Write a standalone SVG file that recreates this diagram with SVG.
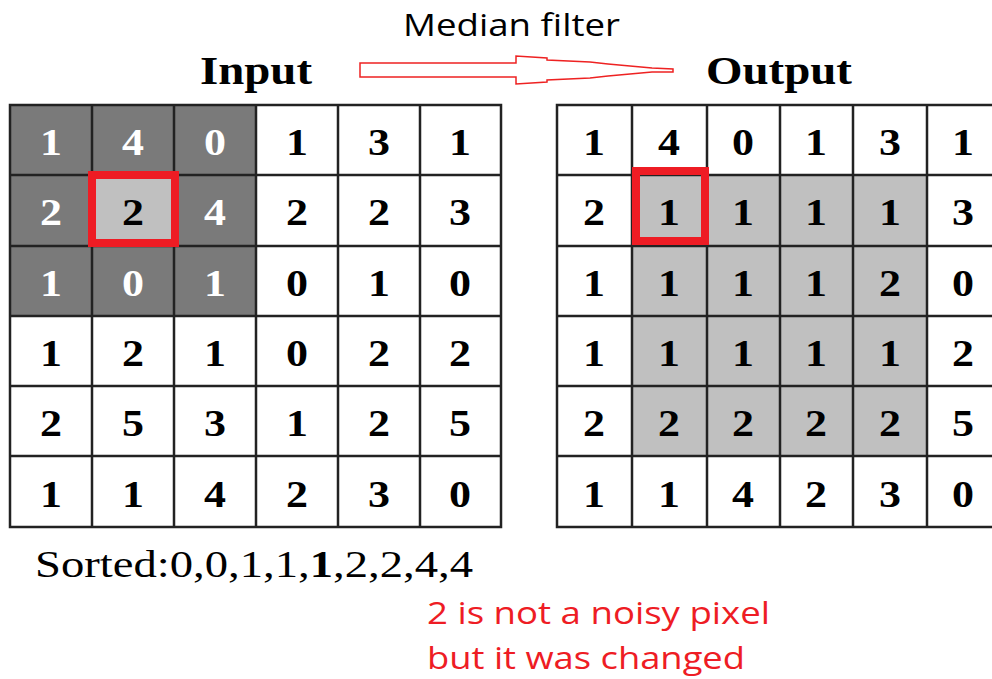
<svg xmlns="http://www.w3.org/2000/svg" width="992" height="679" viewBox="0 0 992 679">
<style>
.n{font-family:"Liberation Serif","Times New Roman",serif;font-weight:bold;font-size:37px;text-anchor:middle}
.w{fill:#ffffff}
.b{fill:#000000}
.g{stroke:#222;stroke-width:2.5;fill:none}
.ttl{font-family:"Liberation Serif",serif;font-weight:bold;font-size:40px}
.cal{font-family:"Open Sans","Liberation Sans",sans-serif}
</style>
<rect width="992" height="679" fill="#fff"/>
<g id="title">
<text class="cal" x="403" y="36" font-size="31" fill="#000" textLength="217" lengthAdjust="spacingAndGlyphs">Median filter</text>
</g>
<g id="input-label"><text class="ttl" x="200" y="84" textLength="112" lengthAdjust="spacingAndGlyphs">Input</text></g>
<g id="output-label"><text class="ttl" x="706" y="84" textLength="146" lengthAdjust="spacingAndGlyphs">Output</text></g>
<g id="connectors">
<polygon points="360,63 516,63 516,56 547,58 547,60 590,62 608,64 630,66 652,68 673,69 673,72 652,72 630,74 608,76 590,78 547,80 547,82 516,84 516,77 360,77" fill="#fff" stroke="#ee2222" stroke-width="1.5"/>
</g>
<g id="input-grid">
<rect x="10" y="105" width="246" height="211" fill="#7a7a7a"/>
<rect x="92" y="175" width="82" height="71" fill="#c0c0c0"/>
<path class="g" d="M10 105H501V527H10Z M92 105V527 M174 105V527 M256 105V527 M338 105V527 M420 105V527 M10 175H501 M10 246H501 M10 316H501 M10 386H501 M10 456H501"/>
<rect x="92" y="175" width="83" height="68" fill="none" stroke="#ee1c24" stroke-width="8"/>
<g class="n">
<text class="w" x="51" y="155" textLength="22" lengthAdjust="spacingAndGlyphs">1</text><text class="w" x="133" y="155" textLength="22" lengthAdjust="spacingAndGlyphs">4</text><text class="w" x="215" y="155" textLength="22" lengthAdjust="spacingAndGlyphs">0</text><text class="b" x="297" y="155" textLength="22" lengthAdjust="spacingAndGlyphs">1</text><text class="b" x="379" y="155" textLength="22" lengthAdjust="spacingAndGlyphs">3</text><text class="b" x="460" y="155" textLength="22" lengthAdjust="spacingAndGlyphs">1</text>
<text class="w" x="51" y="225" textLength="22" lengthAdjust="spacingAndGlyphs">2</text><text class="b" x="133" y="225" textLength="22" lengthAdjust="spacingAndGlyphs">2</text><text class="w" x="215" y="225" textLength="22" lengthAdjust="spacingAndGlyphs">4</text><text class="b" x="297" y="225" textLength="22" lengthAdjust="spacingAndGlyphs">2</text><text class="b" x="379" y="225" textLength="22" lengthAdjust="spacingAndGlyphs">2</text><text class="b" x="460" y="225" textLength="22" lengthAdjust="spacingAndGlyphs">3</text>
<text class="w" x="51" y="296" textLength="22" lengthAdjust="spacingAndGlyphs">1</text><text class="w" x="133" y="296" textLength="22" lengthAdjust="spacingAndGlyphs">0</text><text class="w" x="215" y="296" textLength="22" lengthAdjust="spacingAndGlyphs">1</text><text class="b" x="297" y="296" textLength="22" lengthAdjust="spacingAndGlyphs">0</text><text class="b" x="379" y="296" textLength="22" lengthAdjust="spacingAndGlyphs">1</text><text class="b" x="460" y="296" textLength="22" lengthAdjust="spacingAndGlyphs">0</text>
<text class="b" x="51" y="366" textLength="22" lengthAdjust="spacingAndGlyphs">1</text><text class="b" x="133" y="366" textLength="22" lengthAdjust="spacingAndGlyphs">2</text><text class="b" x="215" y="366" textLength="22" lengthAdjust="spacingAndGlyphs">1</text><text class="b" x="297" y="366" textLength="22" lengthAdjust="spacingAndGlyphs">0</text><text class="b" x="379" y="366" textLength="22" lengthAdjust="spacingAndGlyphs">2</text><text class="b" x="460" y="366" textLength="22" lengthAdjust="spacingAndGlyphs">2</text>
<text class="b" x="51" y="436" textLength="22" lengthAdjust="spacingAndGlyphs">2</text><text class="b" x="133" y="436" textLength="22" lengthAdjust="spacingAndGlyphs">5</text><text class="b" x="215" y="436" textLength="22" lengthAdjust="spacingAndGlyphs">3</text><text class="b" x="297" y="436" textLength="22" lengthAdjust="spacingAndGlyphs">1</text><text class="b" x="379" y="436" textLength="22" lengthAdjust="spacingAndGlyphs">2</text><text class="b" x="460" y="436" textLength="22" lengthAdjust="spacingAndGlyphs">5</text>
<text class="b" x="51" y="507" textLength="22" lengthAdjust="spacingAndGlyphs">1</text><text class="b" x="133" y="507" textLength="22" lengthAdjust="spacingAndGlyphs">1</text><text class="b" x="215" y="507" textLength="22" lengthAdjust="spacingAndGlyphs">4</text><text class="b" x="297" y="507" textLength="22" lengthAdjust="spacingAndGlyphs">2</text><text class="b" x="379" y="507" textLength="22" lengthAdjust="spacingAndGlyphs">3</text><text class="b" x="460" y="507" textLength="22" lengthAdjust="spacingAndGlyphs">0</text>
</g>
</g>
<g id="output-grid">
<rect x="632" y="175" width="295" height="281" fill="#c0c0c0"/>
<path class="g" d="M557 105H1001V527H557Z M632 105V527 M707 105V527 M780 105V527 M853 105V527 M927 105V527 M557 175H1001 M557 246H1001 M557 316H1001 M557 386H1001 M557 456H1001"/>
<rect x="636" y="171" width="69" height="70" fill="none" stroke="#ee1c24" stroke-width="8"/>
<g class="n b">
<text x="594" y="155" textLength="22" lengthAdjust="spacingAndGlyphs">1</text><text x="669" y="155" textLength="22" lengthAdjust="spacingAndGlyphs">4</text><text x="743" y="155" textLength="22" lengthAdjust="spacingAndGlyphs">0</text><text x="816" y="155" textLength="22" lengthAdjust="spacingAndGlyphs">1</text><text x="890" y="155" textLength="22" lengthAdjust="spacingAndGlyphs">3</text><text x="963" y="155" textLength="22" lengthAdjust="spacingAndGlyphs">1</text>
<text x="594" y="225" textLength="22" lengthAdjust="spacingAndGlyphs">2</text><text x="669" y="225" textLength="22" lengthAdjust="spacingAndGlyphs">1</text><text x="743" y="225" textLength="22" lengthAdjust="spacingAndGlyphs">1</text><text x="816" y="225" textLength="22" lengthAdjust="spacingAndGlyphs">1</text><text x="890" y="225" textLength="22" lengthAdjust="spacingAndGlyphs">1</text><text x="963" y="225" textLength="22" lengthAdjust="spacingAndGlyphs">3</text>
<text x="594" y="296" textLength="22" lengthAdjust="spacingAndGlyphs">1</text><text x="669" y="296" textLength="22" lengthAdjust="spacingAndGlyphs">1</text><text x="743" y="296" textLength="22" lengthAdjust="spacingAndGlyphs">1</text><text x="816" y="296" textLength="22" lengthAdjust="spacingAndGlyphs">1</text><text x="890" y="296" textLength="22" lengthAdjust="spacingAndGlyphs">2</text><text x="963" y="296" textLength="22" lengthAdjust="spacingAndGlyphs">0</text>
<text x="594" y="366" textLength="22" lengthAdjust="spacingAndGlyphs">1</text><text x="669" y="366" textLength="22" lengthAdjust="spacingAndGlyphs">1</text><text x="743" y="366" textLength="22" lengthAdjust="spacingAndGlyphs">1</text><text x="816" y="366" textLength="22" lengthAdjust="spacingAndGlyphs">1</text><text x="890" y="366" textLength="22" lengthAdjust="spacingAndGlyphs">1</text><text x="963" y="366" textLength="22" lengthAdjust="spacingAndGlyphs">2</text>
<text x="594" y="436" textLength="22" lengthAdjust="spacingAndGlyphs">2</text><text x="669" y="436" textLength="22" lengthAdjust="spacingAndGlyphs">2</text><text x="743" y="436" textLength="22" lengthAdjust="spacingAndGlyphs">2</text><text x="816" y="436" textLength="22" lengthAdjust="spacingAndGlyphs">2</text><text x="890" y="436" textLength="22" lengthAdjust="spacingAndGlyphs">2</text><text x="963" y="436" textLength="22" lengthAdjust="spacingAndGlyphs">5</text>
<text x="594" y="507" textLength="22" lengthAdjust="spacingAndGlyphs">1</text><text x="669" y="507" textLength="22" lengthAdjust="spacingAndGlyphs">1</text><text x="743" y="507" textLength="22" lengthAdjust="spacingAndGlyphs">4</text><text x="816" y="507" textLength="22" lengthAdjust="spacingAndGlyphs">2</text><text x="890" y="507" textLength="22" lengthAdjust="spacingAndGlyphs">3</text><text x="963" y="507" textLength="22" lengthAdjust="spacingAndGlyphs">0</text>
</g>
</g>
<g id="sorted">
<text x="35" y="577" font-family="Liberation Serif,serif" font-size="37" fill="#000" textLength="438" lengthAdjust="spacingAndGlyphs">Sorted:0,0,1,1,<tspan font-weight="bold">1</tspan>,2,2,4,4</text>
</g>
<g id="note" class="cal" fill="#ee1c24" font-size="31">
<text x="427" y="624" textLength="343" lengthAdjust="spacingAndGlyphs">2 is not a noisy pixel</text>
<text x="427" y="669" textLength="318" lengthAdjust="spacingAndGlyphs">but it was changed</text>
</g>
</svg>
